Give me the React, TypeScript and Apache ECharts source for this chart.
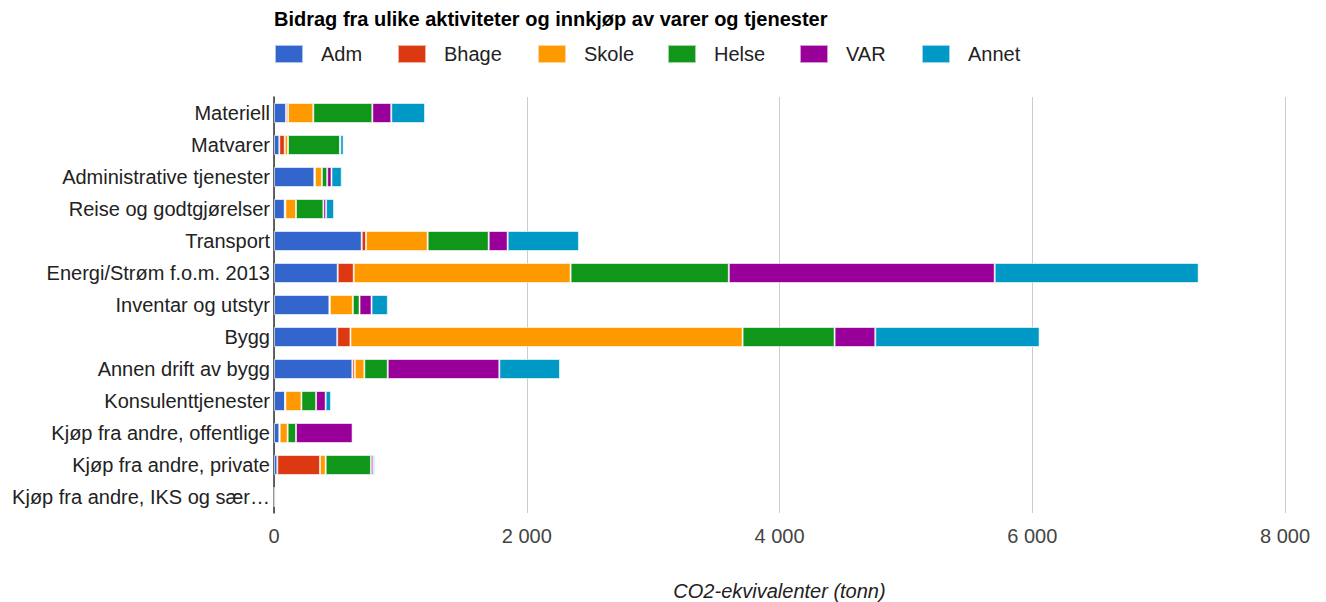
import React, { useEffect, useRef } from "react";
import * as echarts from "echarts";

const categories = [
  "Materiell",
  "Matvarer",
  "Administrative tjenester",
  "Reise og godtgjørelser",
  "Transport",
  "Energi/Strøm f.o.m. 2013",
  "Inventar og utstyr",
  "Bygg",
  "Annen drift av bygg",
  "Konsulenttjenester",
  "Kjøp fra andre, offentlige",
  "Kjøp fra andre, private",
  "Kjøp fra andre, IKS og sær…",
];

const seriesNames = ["Adm", "Bhage", "Skole", "Helse", "VAR", "Annet"];
const seriesColors = ["#3366cc", "#dc3912", "#ff9900", "#109618", "#990099", "#0099c6"];

const adm = [95, 42, 319, 85, 694, 504, 438, 500, 620, 87, 42, 26, 3];
const bhage = [16, 43, 5, 5, 34, 127, 4, 105, 19, 3, 3, 338, 12];
const skole = [200, 26, 55, 84, 488, 1716, 182, 3103, 76, 127, 63, 45, 2];
const helse = [467, 411, 42, 217, 483, 1252, 53, 728, 185, 116, 66, 358, 1];
const varData = [150, 3, 34, 21, 150, 2104, 95, 322, 883, 76, 448, 18, 1];
const annet = [267, 26, 81, 63, 564, 1614, 129, 1300, 480, 42, 8, 13, 4];

const seriesValues = [adm, bhage, skole, helse, varData, annet];

const xTicks = { min: 0, max: 8000, interval: 2000 };
const legendLefts = [274, 397, 537, 667, 799, 921];

const FONT = "'Liberation Sans', Arial, sans-serif";

export default function App() {
  const ref = useRef<HTMLDivElement>(null);

  useEffect(() => {
    if (!ref.current) return;
    const chart = echarts.init(ref.current, null, { renderer: "svg" });
    const legends = seriesNames.map((name, i) => ({
      data: [name],
      left: legendLefts[i],
      top: 44,
      padding: 0,
      itemWidth: 28,
      itemHeight: 18,
      icon: "rect",
      selectedMode: false,
      textStyle: { fontSize: 20, color: "#222", fontFamily: FONT, padding: [0, 0, 0, 13] },
    }));
    chart.setOption({
      animation: false,
      textStyle: { fontFamily: FONT },
      title: {
        text: "Bidrag fra ulike aktiviteter og innkjøp av varer og tjenester",
        left: 274,
        top: 9,
        padding: 0,
        textStyle: { fontSize: 20, fontWeight: "bold", color: "#000", fontFamily: FONT },
      },
      legend: legends,
      grid: {
        left: 274,
        right: 41,
        top: 97,
        height: 416,
        containLabel: false,
        outerBoundsMode: "none",
      },
      xAxis: {
        type: "value",
        min: xTicks.min,
        max: xTicks.max,
        interval: xTicks.interval,
        name: "CO2-ekvivalenter (tonn)",
        nameLocation: "middle",
        nameGap: 70,
        nameTextStyle: {
          fontSize: 20,
          lineHeight: 16,
          fontStyle: "italic",
          color: "#222",
          fontFamily: FONT,
        },
        axisLine: { show: false },
        axisTick: { show: false },
        axisLabel: {
          fontSize: 20,
          color: "#444",
          margin: 13,
          fontFamily: FONT,
          formatter: (v: number) => String(v).replace(/\B(?=(\d{3})+(?!\d))/g, " "),
        },
        splitLine: { show: true, lineStyle: { color: "#cccccc", width: 1 } },
      },
      yAxis: {
        type: "category",
        data: categories,
        inverse: true,
        axisLine: { show: true, lineStyle: { color: "#333", width: 1.5 } },
        axisTick: { show: false },
        axisLabel: { fontSize: 20, color: "#222", margin: 4, fontFamily: FONT },
      },
      series: seriesNames.map((name, i) => ({
        name,
        type: "bar",
        stack: "total",
        barWidth: 20,
        data: seriesValues[i],
        itemStyle: {
          color: seriesColors[i],
          borderColor: "rgba(255,255,255,0.6)",
          borderWidth: 1,
        },
      })),
    });
    return () => chart.dispose();
  }, []);

  return (
    <div
      ref={ref}
      style={{ position: "absolute", left: 0, top: 0, width: 1326, height: 602 }}
    />
  );
}
